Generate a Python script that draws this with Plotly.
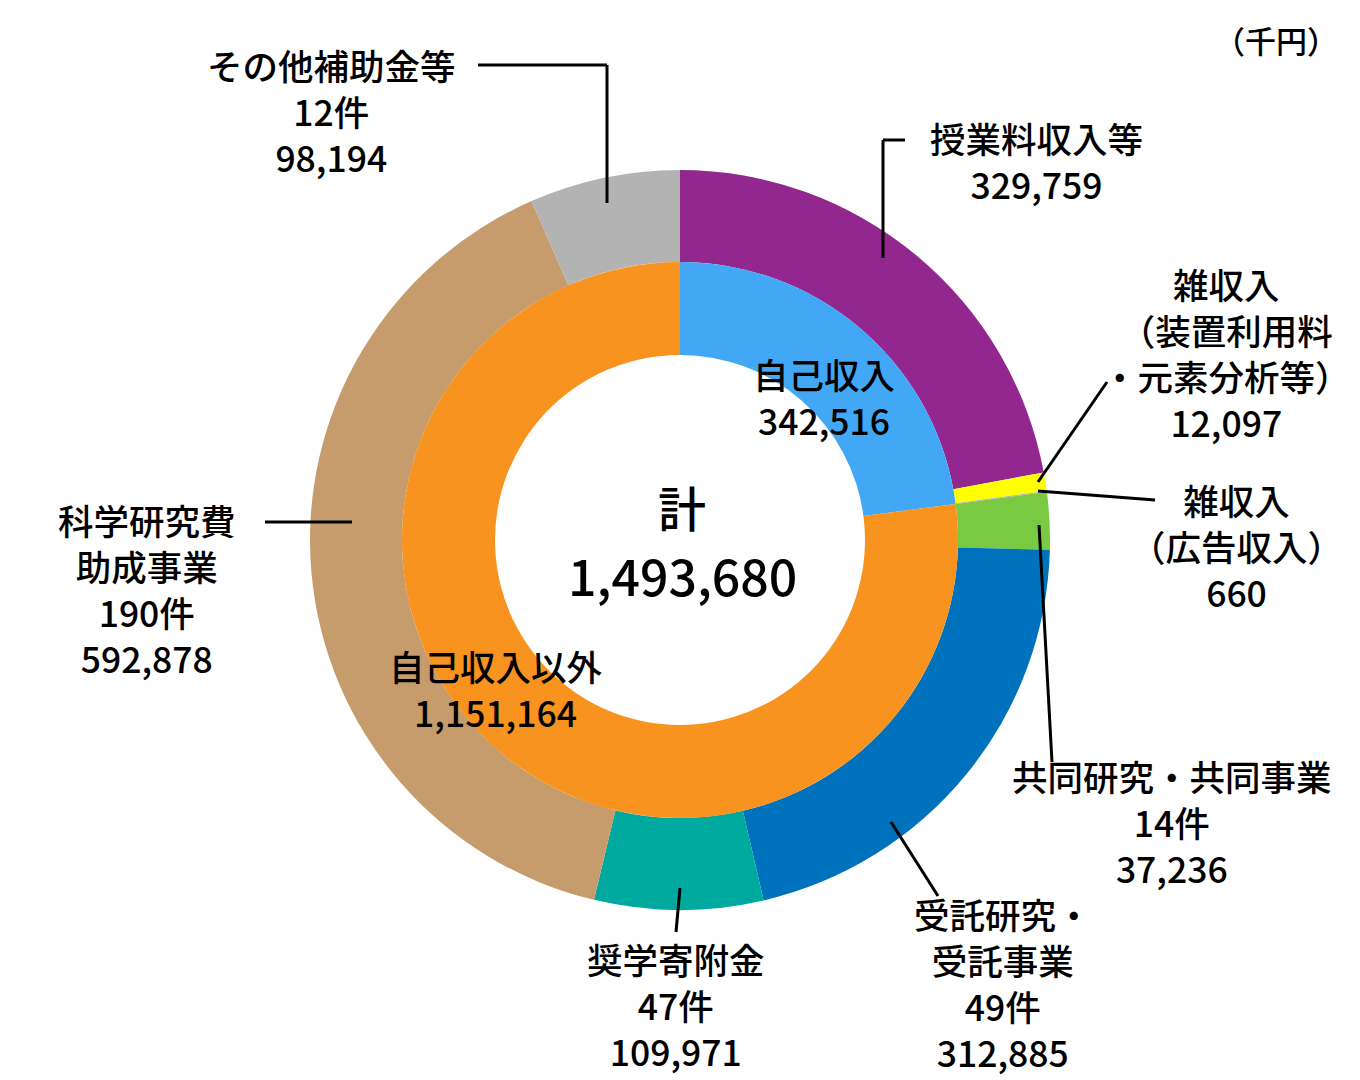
import plotly.graph_objects as go

W, H = 1360, 1080

# ---- data ----
outer_labels = ["授業料収入等", "雑収入（装置利用料・元素分析等）", "雑収入（広告収入）",
                "共同研究・共同事業", "受託研究・受託事業", "奨学寄附金",
                "科学研究費助成事業", "その他補助金等"]
outer_values = [329759, 12097, 660, 37236, 312885, 109971, 592878, 98194]
outer_counts = [None, None, None, 14, 49, 47, 190, 12]
outer_colors = ["#92278F", "#FFFF00", "#B3B3B3", "#7AC943", "#0071BC",
                "#00A99D", "#C69C6D", "#B3B3B3"]

inner_labels = ["自己収入", "自己収入以外"]
inner_values = [342516, 1151164]
inner_colors = ["#42A8F5", "#F7931E"]

total_label = "計"
unit_label = "（千円）"

# label name lines as printed
outer_name_lines = [
    ["授業料収入等"],
    ["雑収入", "（装置利用料", "・元素分析等）"],
    ["雑収入", "（広告収入）"],
    ["共同研究・共同事業"],
    ["受託研究・", "受託事業"],
    ["奨学寄附金"],
    ["科学研究費", "助成事業"],
    ["その他補助金等"],
]

# ---- layout geometry (pixels) ----
CX, CY = 680, 540
R_OUT, R_MID, R_HOLE = 370, 278, 185
FS = 35.5
FONT = "Noto Sans CJK JP"


def px(x, y):
    return x / W, 1 - y / H


def dom(r):
    return dict(x=[(CX - r) / W, (CX + r) / W], y=[1 - (CY + r) / H, 1 - (CY - r) / H])


fig = go.Figure()
fig.add_trace(go.Pie(
    labels=outer_labels, values=outer_values, sort=False, direction="clockwise",
    rotation=0, hole=R_MID / R_OUT, domain=dom(R_OUT), textinfo="none",
    marker=dict(colors=outer_colors, line=dict(width=0)), showlegend=False,
    hoverinfo="label+value",
))
fig.add_trace(go.Pie(
    labels=inner_labels, values=inner_values, sort=False, direction="clockwise",
    rotation=0, hole=R_HOLE / R_MID, domain=dom(R_MID), textinfo="none",
    marker=dict(colors=inner_colors, line=dict(width=0)), showlegend=False,
    hoverinfo="label+value",
))

annotations = []


def add_block(lines, x, y, size=FS, xanchor="center"):
    ax, ay = px(x, y)
    annotations.append(dict(
        text="<br>".join(lines), x=ax, y=ay, xref="paper", yref="paper",
        showarrow=False, xanchor=xanchor, yanchor="middle", align="center",
        font=dict(family=FONT, size=size, color="#000000", weight=500),
    ))


# label block centres (pixels)
label_pos = [(1036, 160), (1226, 352), (1236, 545), (1172, 821),
             (1003, 982), (676, 1004), (147, 588), (331, 111)]

for i in range(len(outer_values)):
    lines = list(outer_name_lines[i])
    if outer_counts[i] is not None:
        lines.append(f"{outer_counts[i]}件")
    lines.append(f"{outer_values[i]:,}")
    x, y = label_pos[i]
    add_block(lines, x, y)

# inner labels
inner_pos = [(824, 396), (496, 688)]
for i in range(len(inner_values)):
    x, y = inner_pos[i]
    add_block([inner_labels[i], f"{inner_values[i]:,}"], x, y, size=FS)

# total (two lines placed separately)
add_block([total_label], 682, 506, size=48)
add_block([f"{sum(outer_values):,}"], 682, 574, size=50)

# unit
add_block([unit_label], 1340, 40, size=31, xanchor="right")

# leader lines (pixel paths)
leaders = [
    [(905, 140), (883, 140), (883, 258)],
    [(1107, 382), (1038, 482)],
    [(1155, 500), (1038, 491)],
    [(1039, 525), (1052, 762)],
    [(891, 822), (938, 896)],
    [(680, 888), (676, 932)],
    [(265, 522), (352, 522)],
    [(478, 65), (607, 65), (607, 203)],
]
shapes = []
for path in leaders:
    for (x0, y0), (x1, y1) in zip(path[:-1], path[1:]):
        a0, b0 = px(x0, y0)
        a1, b1 = px(x1, y1)
        shapes.append(dict(type="line", xref="paper", yref="paper",
                           x0=a0, y0=b0, x1=a1, y1=b1,
                           line=dict(color="#000000", width=3)))

fig.update_layout(
    width=W, height=H, margin=dict(l=0, r=0, t=0, b=0),
    paper_bgcolor="#FFFFFF", plot_bgcolor="#FFFFFF",
    annotations=annotations, shapes=shapes, showlegend=False,
)

fig.write_html("out.html", config={"displayModeBar": False},
               post_script="document.body.style.margin='0';document.body.style.overflow='hidden';")
